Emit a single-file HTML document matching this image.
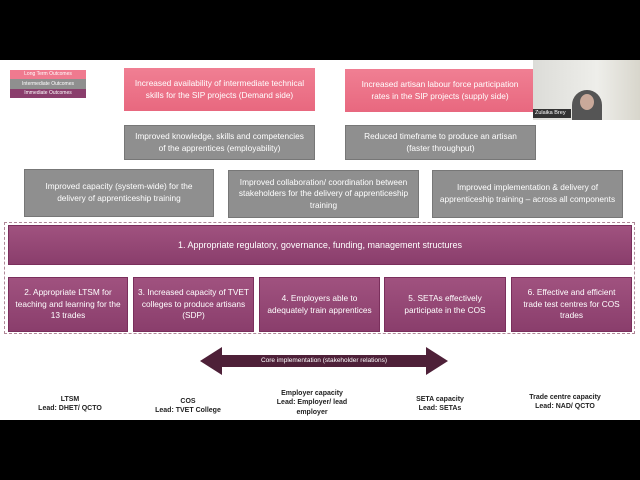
<!DOCTYPE html>
<html><head><style>
body{margin:0;width:640px;height:480px;background:#000;position:relative;overflow:hidden;font-family:"Liberation Sans",sans-serif}
.s{position:absolute;left:0;top:60px;width:640px;height:360px;background:#fff}
.b{position:absolute;display:flex;align-items:center;justify-content:center;text-align:center;color:#fff;font-size:8.3px;line-height:1.4;box-sizing:border-box;padding:0 6px}
.p{background:linear-gradient(#f07f93,#e8687f)}
.g{background:#8f8f8f;border:1px solid #777}
.m{background:linear-gradient(#a0527f,#8a3e6c);border:1px solid #7a2f5c}
.l{position:absolute;text-align:center;font-size:7px;line-height:1.35;color:#222;font-weight:bold}
</style></head><body>
<div class="s"></div>
<div class="b" style="left:10px;top:70px;width:76px;height:9px;background:#ef7a8f;font-size:5px">Long Term Outcomes</div>
<div class="b" style="left:10px;top:79px;width:76px;height:10px;background:#8f8f8f;font-size:5px">Intermediate Outcomes</div>
<div class="b" style="left:10px;top:89px;width:76px;height:9px;background:#8a3e6c;font-size:5px">Immediate Outcomes</div>
<div class="b p" style="left:124px;top:68px;width:191px;height:43px">Increased availability of intermediate technical skills for the SIP projects (Demand side)</div>
<div class="b p" style="left:345px;top:69px;width:190px;height:43px;padding:0 14px">Increased artisan labour force participation rates in the SIP projects (supply side)</div>
<div style="position:absolute;left:533px;top:60px;width:107px;height:60px;background:linear-gradient(90deg,#dcdcd8,#eeeeea 60%,#d8d6cc)"></div>
<div style="position:absolute;left:572px;top:90px;width:30px;height:30px;border-radius:50% 50% 0 0;background:#555"></div>
<div style="position:absolute;left:580px;top:94px;width:14px;height:16px;border-radius:50%;background:#c9a99a"></div>
<div style="position:absolute;left:533px;top:109px;width:36px;height:9px;background:#333;color:#fff;font-size:5.5px;line-height:9px;padding-left:2px">Zulaika Brey</div>
<div class="b g" style="left:124px;top:125px;width:191px;height:35px">Improved knowledge, skills and competencies of the apprentices (employability)</div>
<div class="b g" style="left:345px;top:125px;width:191px;height:35px">Reduced timeframe to produce an artisan (faster throughput)</div>
<div class="b g" style="left:24px;top:169px;width:190px;height:48px">Improved capacity (system-wide) for the delivery of apprenticeship training</div>
<div class="b g" style="left:228px;top:170px;width:191px;height:48px">Improved collaboration/ coordination between stakeholders for the delivery of apprenticeship training</div>
<div class="b g" style="left:432px;top:170px;width:191px;height:48px;padding:0 3px">Improved implementation &amp; delivery of apprenticeship training – across all components</div>
<div style="position:absolute;left:4px;top:222px;width:631px;height:112px;border:1px dashed #b08898;box-sizing:border-box"></div>
<div class="b m" style="left:8px;top:225px;width:624px;height:40px;font-size:9px">1. Appropriate regulatory, governance, funding, management structures</div>
<div class="b m" style="left:8px;top:277px;width:120px;height:55px;padding:0 3px">2. Appropriate LTSM for teaching and learning for the 13 trades</div>
<div class="b m" style="left:133px;top:277px;width:121px;height:55px;padding:0 3px">3. Increased capacity of TVET colleges to produce artisans (SDP)</div>
<div class="b m" style="left:259px;top:277px;width:121px;height:55px;padding:0 3px">4. Employers able to adequately train apprentices</div>
<div class="b m" style="left:384px;top:277px;width:122px;height:55px">5. SETAs effectively participate in the COS</div>
<div class="b m" style="left:511px;top:277px;width:121px;height:55px">6. Effective and efficient trade test centres for COS trades</div>
<svg style="position:absolute;left:0;top:0" width="640" height="480"><polygon points="200,361 222,347 222,355 426,355 426,347 448,361 426,375 426,367 222,367 222,375" fill="#4e2038"/></svg>
<div style="position:absolute;left:222px;top:355px;width:204px;height:12px;color:#fff;font-size:6.5px;line-height:12px;text-align:center">Core implementation (stakeholder relations)</div>
<div class="l" style="left:20px;top:395px;width:100px">LTSM<br>Lead: DHET/ QCTO</div>
<div class="l" style="left:138px;top:397px;width:100px">COS<br>Lead: TVET College</div>
<div class="l" style="left:262px;top:389px;width:100px">Employer capacity<br>Lead: Employer/ lead employer</div>
<div class="l" style="left:390px;top:395px;width:100px">SETA capacity<br>Lead: SETAs</div>
<div class="l" style="left:515px;top:393px;width:100px">Trade centre capacity<br>Lead: NAD/ QCTO</div>
</body></html>
